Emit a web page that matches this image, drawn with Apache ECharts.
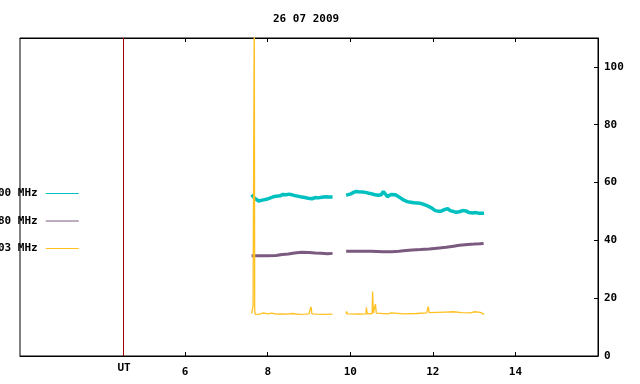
<!DOCTYPE html>
<html>
<head>
<meta charset="utf-8">
<script src="https://cdn.jsdelivr.net/npm/echarts@6/dist/echarts.min.js"></script>
<style>
html, body { margin: 0; padding: 0; background: #fff; }
#chart { width: 640px; height: 384px; }
</style>
</head>
<body>
<div id="chart"></div>
<script>
// 标题、图例、刻度
const chartTitle = '26 07 2009'
const seriesNames = ['00 MHz', '80 MHz', '03 MHz']
const seriesColors = ['#00c0c0', '#7a5a7e', '#ffc020']
const xShownTicks = [6, 8, 10, 12, 14]
const utHour = 4.5
const utLabel = 'UT'

// 数据（小时, 数值），null 表示断开
const cyanHours = [7.61, 7.64, 7.68, 7.72, 7.78, 7.83, 7.9, 7.97, 8.05, 8.12, 8.2, 8.3, 8.37, 8.45, 8.52, 8.58, 8.65, 8.72, 8.82, 8.9, 8.98, 9.07, 9.15, 9.22, 9.31, 9.4, 9.48, 9.57,
  9.7,
  9.9, 9.95, 10.02, 10.08, 10.14, 10.2, 10.3, 10.37, 10.45, 10.52, 10.6, 10.68, 10.75, 10.8, 10.84, 10.9, 10.95, 11.0, 11.08, 11.15, 11.2, 11.3, 11.38, 11.46, 11.54, 11.62, 11.7, 11.79, 11.86, 11.93, 12.0, 12.06, 12.12, 12.2, 12.28, 12.36, 12.42, 12.5, 12.56, 12.64, 12.72, 12.8, 12.88, 12.96, 13.04, 13.12, 13.24]
const cyanValues = [55.8, 55.2, 54.6, 54.3, 53.6, 53.8, 54.0, 54.2, 54.6, 55.0, 55.3, 55.4, 55.9, 55.8, 56.0, 55.8, 55.5, 55.3, 55.0, 54.8, 54.6, 54.4, 54.8, 54.7, 54.9, 55.1, 55.0, 55.0,
  null,
  55.6, 55.8, 56.1, 56.6, 56.9, 56.8, 56.7, 56.6, 56.3, 56.1, 55.8, 55.6, 55.8, 56.9, 56.6, 55.1, 55.6, 55.9, 55.8, 55.3, 54.8, 53.9, 53.4, 53.2, 53.0, 52.9, 52.8, 52.4, 52.0, 51.5, 50.9, 50.3, 50.1, 50.1, 50.6, 51.0, 50.3, 50.0, 49.7, 49.9, 50.3, 50.2, 49.6, 49.5, 49.6, 49.4, 49.4]

const purpleHours = [7.61, 7.8, 8.0, 8.2, 8.35, 8.5, 8.65, 8.82, 9.0, 9.15, 9.3, 9.45, 9.57,
  9.7,
  9.9, 10.2, 10.5, 10.8, 11.0, 11.18, 11.35, 11.5, 11.7, 11.91, 12.1, 12.32, 12.5, 12.64, 12.85, 13.0, 13.13, 13.23]
const purpleValues = [34.7, 34.7, 34.7, 34.8, 35.1, 35.3, 35.6, 35.9, 35.8, 35.6, 35.5, 35.4, 35.5,
  null,
  36.2, 36.2, 36.2, 36.1, 36.1, 36.2, 36.5, 36.7, 36.8, 37.0, 37.3, 37.6, 38.0, 38.3, 38.6, 38.7, 38.8, 38.9]

const yellowHours = [7.61, 7.63, 7.645, 7.665, 7.675, 7.685, 7.70, 7.8, 7.9, 8.0, 8.1, 8.2, 8.35, 8.5, 8.6, 8.75, 8.9, 9.0, 9.03, 9.05, 9.07, 9.2, 9.35, 9.57,
  9.7,
  9.9, 9.91, 9.93, 10.1, 10.2, 10.3, 10.38, 10.39, 10.41, 10.53, 10.54, 10.56, 10.6, 10.61, 10.63, 10.9, 11.0, 11.3, 11.6, 11.85, 11.89, 11.91, 12.1, 12.3, 12.5, 12.7, 12.9, 13.0, 13.15, 13.24]
const yellowValues = [14.7, 15.0, 17.2, 17.0, 120, 15.5, 14.4, 14.5, 14.9, 14.6, 14.8, 14.5, 14.6, 14.5, 14.7, 14.4, 14.5, 14.6, 16.2, 17.0, 14.6, 14.5, 14.4, 14.5,
  null,
  14.6, 15.4, 14.6, 14.5, 14.6, 14.5, 14.6, 16.8, 14.6, 14.7, 22.3, 14.8, 15.0, 18.0, 14.8, 14.6, 14.9, 14.6, 14.7, 14.9, 17.1, 15.0, 15.1, 15.2, 15.3, 15.0, 14.9, 15.3, 15.1, 14.4]

function pairs(hours, values) {
  return hours.map((h, i) => [h, values[i]])
}

const monoFont = {
  fontFamily: 'DejaVu Sans Mono',
  fontWeight: 'bold',
  fontSize: 11,
  color: '#000',
}

let option = {
  animation: false,
  backgroundColor: '#fff',
  title: {
    text: chartTitle,
    left: 273,
    top: 14,
    padding: 0,
    textStyle: monoFont,
  },
  legend: {
    orient: 'vertical',
    left: -7,
    top: 183,
    align: 'right',
    icon: 'rect',
    itemWidth: 33,
    itemHeight: 1,
    itemGap: 16.5,
    selectedMode: false,
    textStyle: Object.assign({}, monoFont, { padding: [0, 3, 0, 0] }),
    data: seriesNames,
  },
  grid: {
    show: true,
    left: 20,
    right: 42,
    top: 38,
    bottom: 28,
    borderColor: '#000',
    borderWidth: 1,
  },
  xAxis: [
    {
      type: 'value',
      position: 'bottom',
      min: 2,
      max: 16,
      interval: 2,
      axisLine: { show: true, lineStyle: { color: '#000' } },
      axisTick: { inside: true, length: 4, customValues: xShownTicks, lineStyle: { color: '#000' } },
      axisLabel: Object.assign({}, monoFont, { margin: 11, customValues: xShownTicks }),
      splitLine: { show: false },
    },
    {
      type: 'value',
      position: 'top',
      min: 2,
      max: 16,
      interval: 2,
      axisLine: { show: true, lineStyle: { color: '#000' } },
      axisTick: { inside: true, length: 4, customValues: xShownTicks, lineStyle: { color: '#000' } },
      axisLabel: { show: false },
      splitLine: { show: false },
    },
  ],
  yAxis: {
    type: 'value',
    position: 'right',
    min: 0,
    max: 110,
    interval: 20,
    axisLine: { show: true, lineStyle: { color: '#000' } },
    axisTick: { inside: true, length: 4, lineStyle: { color: '#000' } },
    axisLabel: Object.assign({}, monoFont, { margin: 6, showMaxLabel: false }),
    splitLine: { show: false },
  },
  graphic: [
    {
      type: 'text',
      x: 124,
      y: 368,
      style: {
        text: utLabel,
        fill: '#000',
        align: 'center',
        verticalAlign: 'middle',
        font: 'bold 11px "DejaVu Sans Mono"',
      },
    },
  ],
  series: [
    {
      name: seriesNames[0],
      type: 'line',
      data: pairs(cyanHours, cyanValues),
      showSymbol: false,
      symbol: 'none',
      color: seriesColors[0],
      lineStyle: { width: 3.5, color: seriesColors[0] },
      markLine: {
        silent: true,
        symbol: 'none',
        label: { show: false },
        lineStyle: { color: '#a00000', width: 1, type: 'solid' },
        data: [{ xAxis: utHour }],
      },
    },
    {
      name: seriesNames[1],
      type: 'line',
      data: pairs(purpleHours, purpleValues),
      showSymbol: false,
      symbol: 'none',
      color: seriesColors[1],
      lineStyle: { width: 3, color: seriesColors[1] },
    },
    {
      name: seriesNames[2],
      type: 'line',
      data: pairs(yellowHours, yellowValues),
      showSymbol: false,
      symbol: 'none',
      color: seriesColors[2],
      lineStyle: { width: 1.3, color: seriesColors[2] },
    },
  ],
}

var chart = echarts.init(document.getElementById('chart'))
chart.setOption(option)
</script>
</body>
</html>
